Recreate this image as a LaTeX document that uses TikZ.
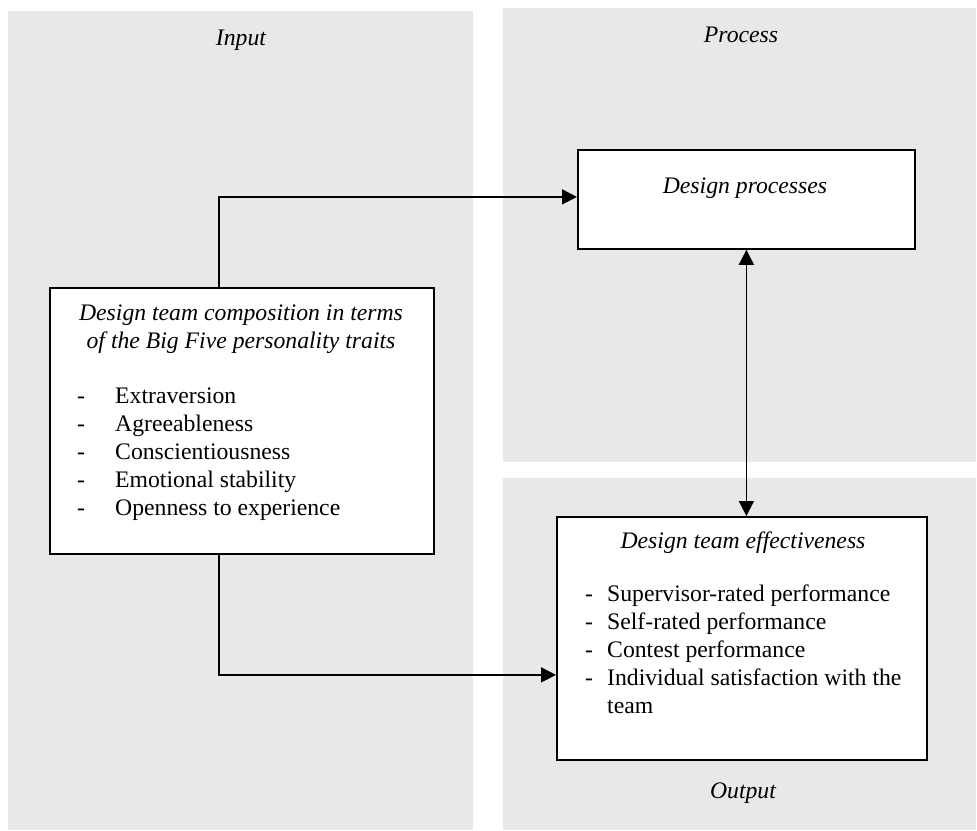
\documentclass[tikz,border=0pt]{standalone}
\usepackage{fontspec}
\setmainfont{Liberation Serif}
\usetikzlibrary{arrows.meta}
\definecolor{panelgray}{HTML}{E8E8E8}
\begin{document}
\begin{tikzpicture}[x=1pt,y=-1pt,
  panel/.style={fill=panelgray,draw=none},
  box/.style={draw,line width=1.8pt,fill=white,inner sep=0pt,anchor=north west},
  bodytext/.style={inner sep=0pt,font=\fontsize{23.7}{28}\selectfont},
  lefttext/.style={bodytext,anchor=base west},
  midtext/.style={bodytext,anchor=base},
  conn/.style={line width=1.6pt},
  arr/.style={conn,-{Triangle[length=15pt,width=15pt]}},
  darr/.style={conn,{Triangle[length=15pt,width=15pt]}-{Triangle[length=15pt,width=15pt]}}]
\useasboundingbox (0,0) rectangle (977,830);
% panels
\fill[panel] (8,11) rectangle (473,830);
\fill[panel] (503,8) rectangle (976,462);
\fill[panel] (503,478) rectangle (976,830);
% panel labels
\node[midtext] (linput) at (241,45) {\itshape Input};
\node[midtext] (lprocess) at (741,42) {\itshape Process};
\node[midtext] (loutput) at (743,798) {\itshape Output};
% boxes
\node[box,minimum width=384pt,minimum height=266pt] (inbox) at (49,287) {};
\node[box,minimum width=337pt,minimum height=99pt] (dp) at (577,149) {};
\node[box,minimum width=370pt,minimum height=243pt] (outbox) at (556,516) {};
% input box text
\node[midtext] (t1) at (241,320) {\itshape Design team composition in terms};
\node[midtext] (t2) at (241,348) {\itshape of the Big Five personality traits};
\foreach \i/\t in {0/Extraversion,1/Agreeableness,2/Conscientiousness,3/Emotional stability,4/Openness to experience}{
  \node[lefttext] (id\i) at (77,403+28*\i) {-};
  \node[lefttext] (it\i) at (115,403+28*\i) {\t};
}
% design processes text
\node[midtext] (dpt) at (745,193) {\itshape Design processes};
% output box text
\node[midtext] (ot) at (743,548) {\itshape Design team effectiveness};
\foreach \i/\t in {0/Supervisor-rated performance,1/Self-rated performance,2/Contest performance,3/Individual satisfaction with the}{
  \node[lefttext] (od\i) at (585,601+28*\i) {-};
  \node[lefttext] (ott\i) at (607,601+28*\i) {\t};
}
\node[lefttext] (ott4) at (607,713) {team};
% connectors
\coordinate (cx) at (219,0);
\draw[arr] (inbox.north -| cx) |- ([yshift=2.5pt]dp.west);
\draw[arr] (inbox.south -| cx) |- ([yshift=-36.5pt]outbox.west);
\draw[darr] (dp.south) -- (dp.south |- outbox.north);
\end{tikzpicture}
\end{document}
